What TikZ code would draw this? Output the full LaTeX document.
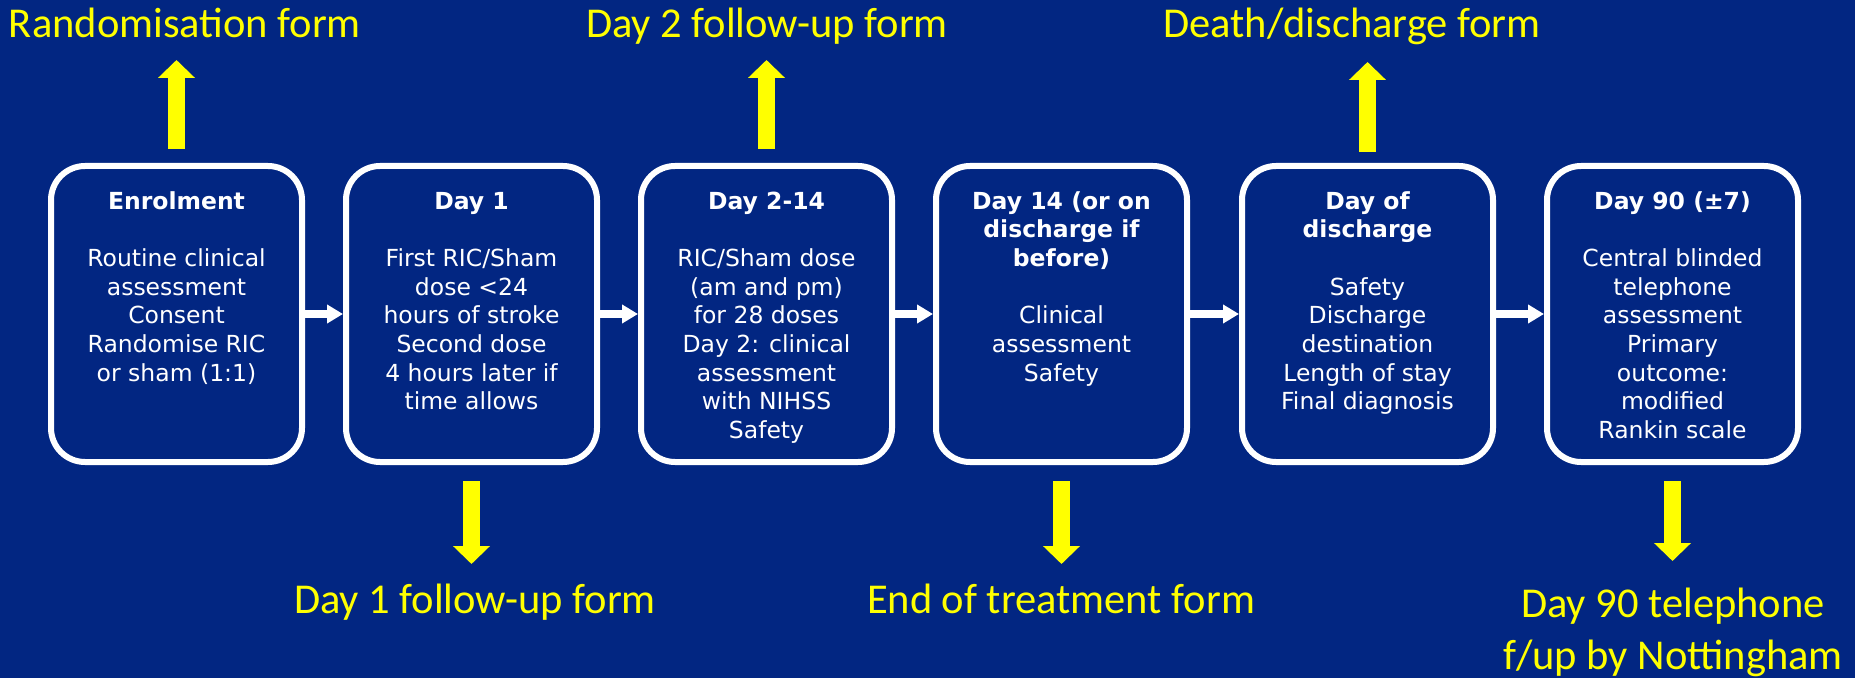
\documentclass[tikz,border=0pt]{standalone}
\usepackage{fontspec}
\setmainfont{DejaVu Sans}
\newfontfamily\formfont{Carlito}
\usetikzlibrary{arrows.meta,positioning}
\definecolor{slideblue}{RGB}{2,38,130}
\definecolor{formyellow}{RGB}{255,255,0}

\newcommand{\stagetext}[2]{\parbox[c][250pt][t]{245pt}{\centering\strut\textbf{#1}\\[\baselineskip]#2}}

\begin{document}
\begin{tikzpicture}[x=1pt,y=1pt,
    stage/.style={draw=white, line width=6pt, rounded corners=34pt, minimum width=251pt,
        minimum height=296pt, inner sep=0pt, text=white, font=\fontsize{23.5}{28.7}\selectfont},
    form/.style={text=formyellow, inner sep=0pt, font=\formfont\fontsize{42.5}{52}\selectfont},
    flow/.style={draw=white, line width=8pt, -{Triangle[width=18pt,length=16pt]}},
    formarrow/.style={draw=formyellow, line width=17pt, -{Triangle[width=36pt,length=18pt]}}]
    \fill[slideblue] (0,0) rectangle (1855,678);
    \useasboundingbox (0,0) rectangle (1855,678);

    % timeline boxes
    \node[stage] (enrol) at (176.5,364) {\stagetext{Enrolment}{Routine clinical\\assessment\\Consent\\Randomise RIC\\or sham (1:1)}};
    \node[stage, right=38pt of enrol] (dayone) {\stagetext{Day 1}{First RIC/Sham\\dose <24\\hours of stroke\\Second dose\\4 hours later if\\time allows}};
    \node[stage, right=38pt of dayone] (daytwo) {\stagetext{Day 2-14}{RIC/Sham dose\\(am and pm)\\for 28 doses\\Day 2: clinical\\assessment\\with NIHSS\\Safety}};
    \node[stage, right=38pt of daytwo] (dayfourteen) {\stagetext{Day 14 (or on\\discharge if\\before)}{Clinical\\assessment\\Safety}};
    \node[stage, right=49pt of dayfourteen] (discharge) {\stagetext{Day of\\discharge}{Safety\\Discharge\\destination\\Length of stay\\Final diagnosis}};
    \node[stage, right=48pt of discharge] (dayninety) {\stagetext{Day 90 (\textpm7)}{Central blinded\\telephone\\assessment\\Primary\\outcome:\\modified\\Rankin scale}};

    \draw[flow] (enrol.east) -- (dayone.west);
    \draw[flow] (dayone.east) -- (daytwo.west);
    \draw[flow] (daytwo.east) -- (dayfourteen.west);
    \draw[flow] (dayfourteen.east) -- (discharge.west);
    \draw[flow] (discharge.east) -- (dayninety.west);

    % forms
    \node[form, anchor=base] (randform) at (185,640) {Randomisation form};
    \node[form, anchor=base] (daytwoform) at (767,640) {Day 2 follow-up form};
    \node[form, anchor=base] (deathform) at (1352,640) {Death/discharge form};
    \node[form, anchor=base] (dayoneform) at (475,65) {Day 1 follow-up form};
    \node[form, anchor=base] (endform) at (1061,65) {End of treatment form};
    \node[form, anchor=north, align=center] (ninetyform) at (1673,90) {Day 90 telephone\\f/up by Nottingham};

    \draw[formarrow, shorten <=14pt, shorten >=22pt] (enrol.north) -- (enrol.north |- randform.base);
    \draw[formarrow, shorten <=14pt, shorten >=22pt] (daytwo.north) -- (daytwo.north |- daytwoform.base);
    \draw[formarrow, shorten <=11pt, shorten >=24pt] (discharge.north) -- (discharge.north |- deathform.base);
    \draw[formarrow, shorten <=16pt, shorten >=49pt] (dayone.south) -- (dayone.south |- dayoneform.base);
    \draw[formarrow, shorten <=16pt, shorten >=49pt] (dayfourteen.south) -- (dayfourteen.south |- endform.base);
    \draw[formarrow, shorten <=16pt, shorten >=27pt] (dayninety.south) -- (dayninety.south |- ninetyform.north);
\end{tikzpicture}
\end{document}
